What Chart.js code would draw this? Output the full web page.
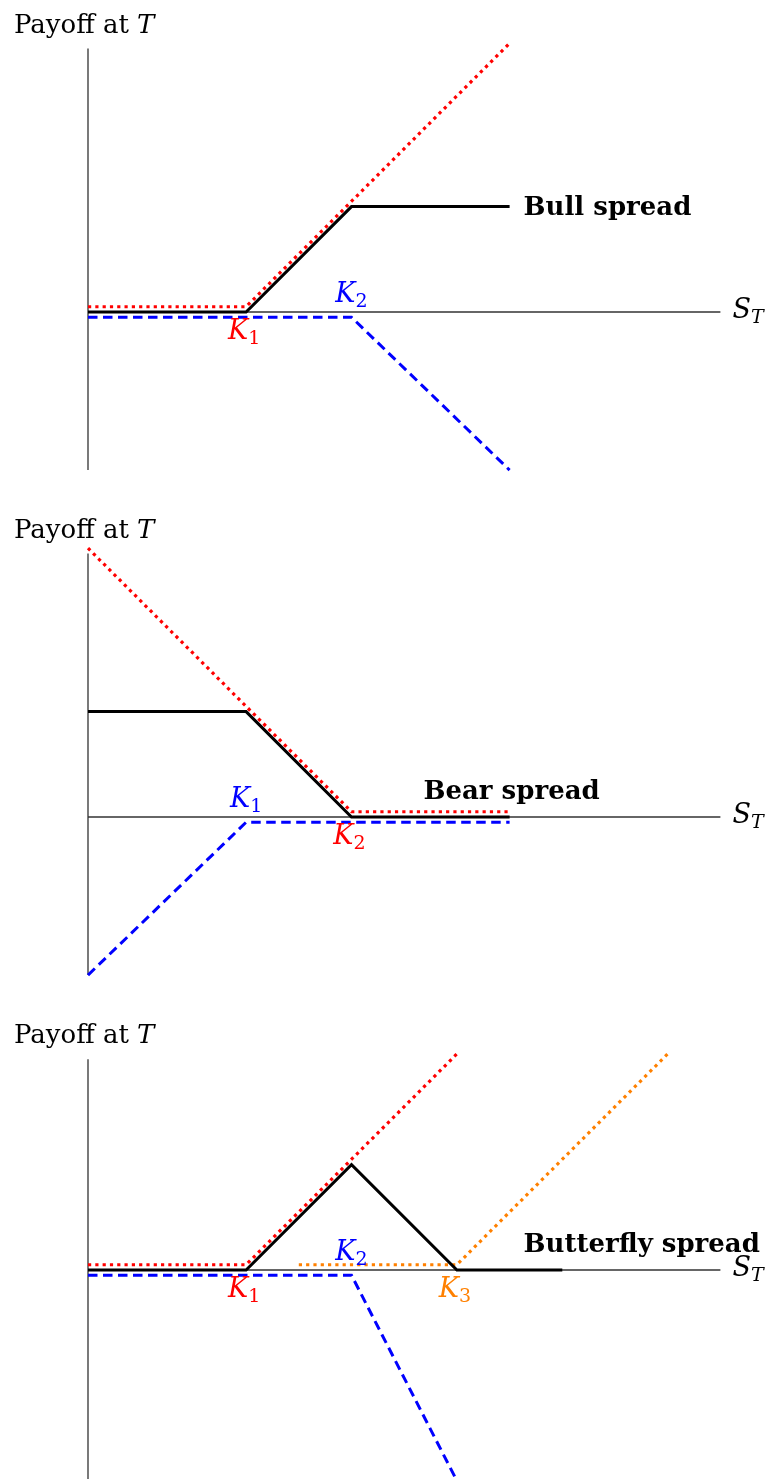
<!DOCTYPE html>
<html>
<head>
<meta charset="utf-8">
<title>Option spreads: payoff at T</title>
<script src="https://cdn.jsdelivr.net/npm/chart.js@4/dist/chart.umd.min.js"></script>
<style>
  body { margin: 0; background: #fff; }
  .wrap { position: relative; width: 769px; height: 1479px; overflow: hidden; }
  .panel { position: absolute; left: 0; }
</style>
</head>
<body>
<div class="wrap">
  <canvas class="panel" id="bull" width="769" height="505" style="top:0"></canvas>
  <canvas class="panel" id="bear" width="769" height="506" style="top:505px"></canvas>
  <canvas class="panel" id="butterfly" width="769" height="468" style="top:1011px"></canvas>
</div>
<script>
// strikes K1, K2, K3
const strikes = [3, 5, 7];
const strikeNames = ["1", "2", "3"];

// axis extents (S_T axis and payoff axis) per panel
const priceAxis = [0, 12];
const bullPayoffAxis = [5, -3];
const bearPayoffAxis = [5, -3];
const flyPayoffAxis = [4, -4];

// bull spread: long call K1, short call K2 (legs nudged off the axis by 0.1)
const bullS = [0, 3, 5, 8];
const bullPayoff = [0, 0, 2, 2];
const bullLongS = [0, 3, 8];
const bullLongCall = [0.1, 0.1, 5.1];
const bullShortS = [0, 5, 8];
const bullShortCall = [-0.1, -0.1, -3.0];

// bear spread: long put K2, short put K1
const bearS = [0, 3, 5, 8];
const bearPayoff = [2, 2, 0, 0];
const bearLongS = [0, 5, 8];
const bearLongPut = [5.1, 0.1, 0.1];
const bearShortS = [0, 3, 8];
const bearShortPut = [-3.0, -0.1, -0.1];

// butterfly: long call K1, two short calls K2, long call K3
const flyS = [0, 3, 5, 7, 9];
const flyPayoff = [0, 0, 2, 0, 0];
const flyLowS = [0, 3, 7];
const flyLowCall = [0.1, 0.1, 4.1];
const flyMidS = [0, 5, 7];
const flyMidCalls = [-0.1, -0.1, -4.0];
const flyHighS = [4, 7, 11];
const flyHighCall = [0.1, 0.1, 4.1];

const titles = ["Bull spread", "Bear spread", "Butterfly spread"];

const UNIT = 52.7;    // px per payoff unit, same on both axes
const ORIGIN_X = 88;  // px of S_T = 0
const SERIF = '"DejaVu Serif", "Liberation Serif", serif';

const RED = "#ff0000";
const BLUE = "#0000ff";
const ORANGE = "#ff8000";

const pts = (xs, ys) => xs.map((x, i) => ({ x: x, y: ys[i] }));

function solid(label, data) {
  return { label, data, borderColor: "#000", borderWidth: 3, order: 1 };
}
function dotted(label, data, color) {
  return { label, data, borderColor: color, borderWidth: 3.2, borderDash: [3.2, 4.1], order: 2 };
}
function dashed(label, data, color) {
  return { label, data, borderColor: color, borderWidth: 3, borderDash: [9.5, 5.5], order: 2 };
}
function axes(payoffAxis) {
  return [
    { label: "S_T", data: pts(priceAxis, [0, 0]), borderColor: "#333", borderWidth: 1.3, order: 5 },
    { label: "Payoff", data: pts([0, 0], payoffAxis), borderColor: "#333", borderWidth: 1.3, order: 5 },
  ];
}

// text with italic letters and subscripts, e.g. K_1
function fontFor(p, size) {
  const s = p.sub ? Math.round(size * 0.72) : size;
  const style = p.it ? "italic " : p.bf ? "bold " : "";
  return style + s + "px " + SERIF;
}
function drawRich(ctx, parts, x, y, align, color, size) {
  let w = 0;
  parts.forEach((p) => {
    ctx.font = fontFor(p, size);
    p.w = ctx.measureText(p.t).width;
    w += p.w;
  });
  let cx = align === "center" ? x - w / 2 : x;
  ctx.fillStyle = color;
  ctx.textBaseline = "alphabetic";
  ctx.textAlign = "left";
  parts.forEach((p) => {
    ctx.font = fontFor(p, size);
    ctx.fillText(p.t, cx, p.sub ? y + size * 0.2 : y);
    cx += p.w;
  });
}

function labelsPlugin(items) {
  return {
    id: "spreadLabels",
    afterDatasetsDraw(chart) {
      const { ctx, scales } = chart;
      ctx.save();
      items.forEach((l) => {
        const px = scales.x.getPixelForValue(l.at[0]) + l.dx;
        const py = scales.y.getPixelForValue(l.at[1]) + l.dy;
        drawRich(ctx, l.parts, px, py, l.align, l.color || "#000", l.size || 27);
      });
      ctx.restore();
    },
  };
}

const payoffLabel = (top) => ({
  at: [0, top], dx: -74, dy: -16, align: "left", size: 26,
  parts: [{ t: "Payoff at " }, { t: "T", it: true }],
});
const priceLabel = {
  at: [priceAxis[1], 0], dx: 12, dy: 6, align: "left",
  parts: [{ t: "S", it: true }, { t: "T", it: true, sub: true }],
};
const strikeLabel = (i, color, below) => ({
  at: [strikes[i], 0], dx: below ? -2 : 0, dy: below ? 27 : -10, align: "center", color,
  parts: [{ t: "K", it: true }, { t: strikeNames[i], sub: true }],
});

function makeChart(id, datasets, labels, axisRow) {
  const cv = document.getElementById(id);
  return new Chart(cv, {
    type: "line",
    data: { datasets },
    options: {
      responsive: false,
      animation: false,
      events: [],
      layout: { padding: 0 },
      elements: { point: { radius: 0 }, line: { tension: 0, borderCapStyle: "butt", borderJoinStyle: "miter" } },
      plugins: { legend: { display: false }, tooltip: { enabled: false } },
      scales: {
        x: { type: "linear", display: false, min: -ORIGIN_X / UNIT, max: (cv.width - ORIGIN_X) / UNIT },
        y: { type: "linear", display: false, min: -(cv.height - axisRow) / UNIT, max: axisRow / UNIT },
      },
    },
    plugins: [labelsPlugin(labels)],
  });
}

makeChart("bull", [
  solid(titles[0], pts(bullS, bullPayoff)),
  dotted("Long call K1", pts(bullLongS, bullLongCall), RED),
  dashed("Short call K2", pts(bullShortS, bullShortCall), BLUE),
  ...axes(bullPayoffAxis),
], [
  payoffLabel(bullPayoffAxis[0]),
  priceLabel,
  strikeLabel(0, RED, true),
  strikeLabel(1, BLUE, false),
  { at: [bullS[3], bullPayoff[3]], dx: 14, dy: 8, align: "left", size: 26, parts: [{ t: titles[0], bf: true }] },
], 312);

makeChart("bear", [
  solid(titles[1], pts(bearS, bearPayoff)),
  dotted("Long put K2", pts(bearLongS, bearLongPut), RED),
  dashed("Short put K1", pts(bearShortS, bearShortPut), BLUE),
  ...axes(bearPayoffAxis),
], [
  payoffLabel(bearPayoffAxis[0]),
  priceLabel,
  strikeLabel(0, BLUE, false),
  strikeLabel(1, RED, true),
  { at: [bearS[3], 0], dx: 2, dy: -18, align: "center", size: 26, parts: [{ t: titles[1], bf: true }] },
], 312);

makeChart("butterfly", [
  solid(titles[2], pts(flyS, flyPayoff)),
  dotted("Long call K1", pts(flyLowS, flyLowCall), RED),
  dashed("Two short calls K2", pts(flyMidS, flyMidCalls), BLUE),
  dotted("Long call K3", pts(flyHighS, flyHighCall), ORANGE),
  ...axes(flyPayoffAxis),
], [
  payoffLabel(flyPayoffAxis[0]),
  priceLabel,
  strikeLabel(0, RED, true),
  strikeLabel(1, BLUE, false),
  strikeLabel(2, ORANGE, true),
  { at: [8, 0], dx: 14, dy: -18, align: "left", size: 26, parts: [{ t: titles[2], bf: true }] },
], 259);
</script>
</body>
</html>
